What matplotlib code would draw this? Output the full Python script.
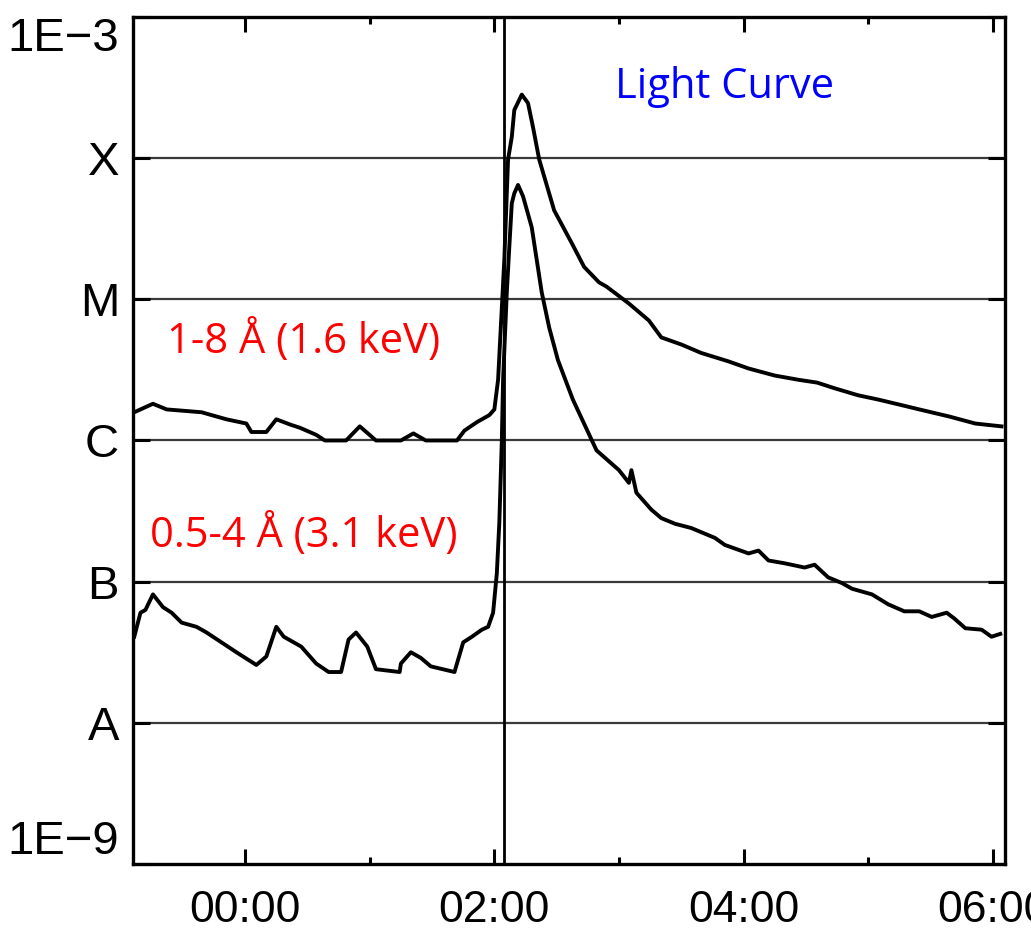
import matplotlib
matplotlib.use("Agg")
import matplotlib.pyplot as plt
import numpy as np

# hours relative to 00:00 and log10 flux (W/m^2)
hi_t = [-0.89, -0.74, -0.63, -0.35, -0.15, 0.01, 0.05, 0.17, 0.25, 0.37,
        0.44, 0.57, 0.64, 0.81, 0.92, 1.05, 1.25, 1.35, 1.45, 1.70,
        1.76, 1.86, 1.96, 2.00, 2.03, 2.08, 2.11, 2.14, 2.16, 2.22,
        2.27, 2.31, 2.36, 2.48, 2.62, 2.72, 2.84, 2.90, 3.08, 3.24,
        3.34, 3.50, 3.66, 3.88, 4.04, 4.25, 4.44, 4.59, 4.73, 4.92,
        5.08, 5.27, 5.41, 5.65, 5.86, 6.07]
hi_log = [-5.80, -5.74, -5.78, -5.80, -5.85, -5.88, -5.94, -5.94, -5.85, -5.89,
          -5.91, -5.96, -6.00, -6.00, -5.90, -6.00, -6.00, -5.95, -6.00, -6.00,
          -5.93, -5.87, -5.82, -5.78, -5.57, -4.72, -4.01, -3.85, -3.66, -3.55,
          -3.61, -3.78, -4.01, -4.37, -4.60, -4.77, -4.88, -4.91, -5.03, -5.15,
          -5.27, -5.32, -5.38, -5.44, -5.49, -5.54, -5.57, -5.59, -5.63, -5.68,
          -5.71, -5.75, -5.78, -5.83, -5.88, -5.90]

lo_t = [-0.89, -0.84, -0.80, -0.74, -0.66, -0.59, -0.51, -0.39, -0.31, -0.19,
        -0.07, 0.09, 0.17, 0.25, 0.31, 0.39, 0.45, 0.49, 0.57, 0.67,
        0.77, 0.83, 0.89, 0.98, 1.05, 1.24, 1.25, 1.33, 1.41, 1.49,
        1.68, 1.75, 1.82, 1.90, 1.95, 1.99, 2.02, 2.04, 2.06, 2.07,
        2.10, 2.12, 2.14, 2.16, 2.19, 2.23, 2.30, 2.34, 2.38, 2.44,
        2.51, 2.63, 2.82, 3.00, 3.08, 3.10, 3.14, 3.26, 3.34, 3.45,
        3.58, 3.77, 3.85, 4.04, 4.12, 4.20, 4.33, 4.49, 4.57, 4.68,
        4.79, 4.87, 5.03, 5.16, 5.29, 5.41, 5.51, 5.63, 5.69, 5.78,
        5.91, 5.99, 6.06]
lo_log = [-7.39, -7.22, -7.20, -7.09, -7.18, -7.22, -7.29, -7.32, -7.36, -7.43,
          -7.50, -7.59, -7.53, -7.32, -7.39, -7.43, -7.46, -7.50, -7.58, -7.64,
          -7.64, -7.41, -7.36, -7.46, -7.62, -7.64, -7.58, -7.50, -7.54, -7.60,
          -7.64, -7.43, -7.39, -7.34, -7.32, -7.22, -6.94, -6.58, -6.00, -5.57,
          -4.95, -4.63, -4.32, -4.25, -4.19, -4.27, -4.49, -4.72, -4.95, -5.20,
          -5.43, -5.71, -6.07, -6.21, -6.30, -6.21, -6.37, -6.49, -6.55, -6.59,
          -6.62, -6.69, -6.74, -6.80, -6.78, -6.85, -6.87, -6.90, -6.88, -6.97,
          -7.01, -7.05, -7.09, -7.16, -7.21, -7.21, -7.25, -7.22, -7.26, -7.33,
          -7.34, -7.39, -7.37]

class_ticks = [1e-9, 1e-8, 1e-7, 1e-6, 1e-5, 1e-4, 1e-3]
class_labels = ['1E\u22129', 'A', 'B', 'C', 'M', 'X', '1E\u22123']
hour_ticks = [0, 2, 4, 6]
hour_labels = ['00:00', '02:00', '04:00', '06:00']
minor_hours = [1, 3, 5]
flare_start = 2.078

plt.rcParams['font.family'] = ['Liberation Sans', 'DejaVu Sans']

fig = plt.figure(figsize=(10.31, 9.36), dpi=100)
ax = fig.add_axes([0.129, 0.0769, 0.846, 0.905])

ax.set_yscale('log')
ax.set_ylim(1e-9, 1e-3)
ax.set_xlim(-0.9, 6.1)

for lvl in class_ticks[1:-1]:
    ax.axhline(lvl, color='#3a3a3a', lw=1.6, zorder=1)
ax.axvline(flare_start, color='black', lw=2, zorder=2)

ax.plot(hi_t, 10 ** np.array(hi_log), color='black', lw=2.8, zorder=3)
ax.plot(lo_t, 10 ** np.array(lo_log), color='black', lw=2.8, zorder=3)

ax.set_yticks(class_ticks)
ax.set_yticklabels(class_labels)
ax.yaxis.set_minor_locator(matplotlib.ticker.NullLocator())
ax.set_xticks(hour_ticks)
ax.set_xticklabels(hour_labels)
ax.set_xticks(minor_hours, minor=True)

ax.tick_params(axis='y', which='major', direction='in', length=12, width=2.2,
               left=True, right=True, labelsize=34, pad=10)
ax.tick_params(axis='x', which='major', direction='in', length=10.5, width=2.2,
               top=True, bottom=True, labelsize=32, pad=19)
ax.tick_params(axis='x', which='minor', direction='in', length=5, width=2.2,
               top=True, bottom=True)
for s in ax.spines.values():
    s.set_linewidth(2.4)

ylabs = ax.get_yticklabels()
ylabs[0].set_va('bottom')
ylabs[-1].set_va('top')

ax.text(0.553, 0.904, 'Light Curve', transform=ax.transAxes, color='#0000ff',
        fontsize=30, family='Open Sans', ha='left', va='baseline')
ax.text(0.039, 0.603, '1-8 \u00c5 (1.6 keV)', transform=ax.transAxes, color='#ff0000',
        fontsize=30, family='Open Sans', ha='left', va='baseline')
ax.text(0.0195, 0.374, '0.5-4 \u00c5 (3.1 keV)', transform=ax.transAxes, color='#ff0000',
        fontsize=30, family='Open Sans', ha='left', va='baseline')

fig.savefig('out.png', dpi=100)
